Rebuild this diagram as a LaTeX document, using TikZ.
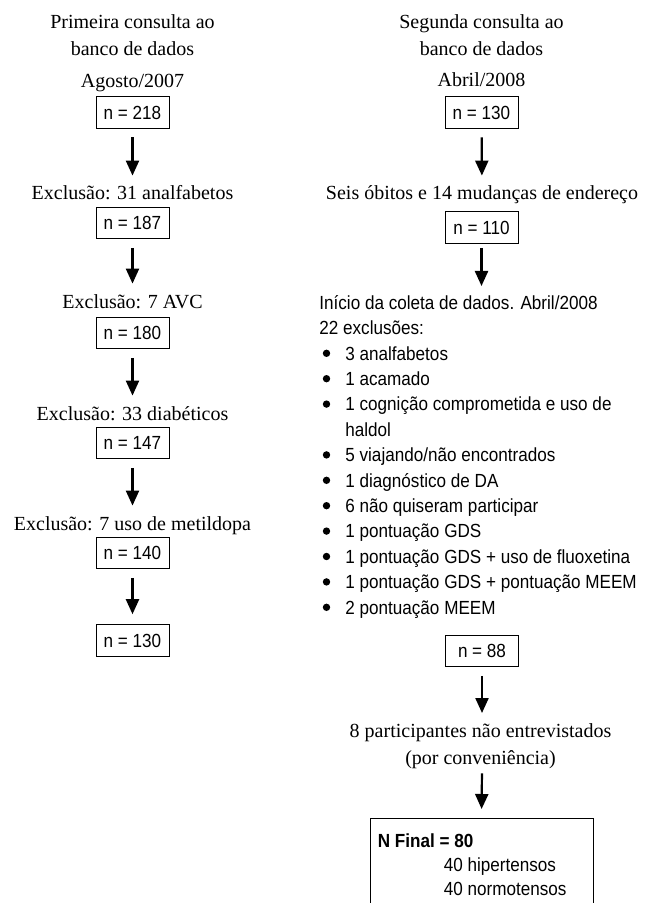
\documentclass[tikz,border=0pt]{standalone}
\usepackage{fontspec}
\setmainfont{Liberation Serif}
\newfontfamily\condsans[FakeStretch=0.9]{Liberation Sans}
\usetikzlibrary{arrows.meta}

\newcommand{\itm}{\hspace*{13pt}}

\tikzset{
  nbox/.style={draw, line width=0.5pt, inner sep=0pt,
    minimum width=36.5pt, minimum height=15.8pt,
    font=\condsans\fontsize{9.5}{12.7}\selectfont},
  txt/.style={inner sep=0pt, text height=7pt, text depth=2pt,
    font=\fontsize{10}{13.5}\selectfont},
  heading/.style={inner sep=0pt, align=center,
    font=\fontsize{10}{13.5}\selectfont},
  listtxt/.style={inner sep=0pt, align=left,
    font=\condsans\fontsize{9.5}{12.7}\selectfont},
  down/.style={-{Triangle[width=6.5pt,length=7.5pt]}, line width=1.1pt,
    shorten <=4.25pt, shorten >=5pt}
}

\begin{document}
\begin{tikzpicture}[x=0.5pt, y=-0.5pt]
  \useasboundingbox (0,0) rectangle (652,903);

  % primeira consulta
  \node[heading, anchor=north] (head1) at (132.5,14) {Primeira consulta ao\\banco de dados};
  \node[txt, anchor=base] (date1) at (132.5,88) {Agosto/2007};
  \node[nbox] (n218) at (132.5,112.5) {n = 218};
  \node[txt, anchor=base] (ex1) at (132.5,200) {Exclusão: 31 analfabetos};
  \node[nbox] (n187) at (132.5,223) {n = 187};
  \node[txt, anchor=base] (ex2) at (132.5,308) {Exclusão: 7 AVC};
  \node[nbox] (n180) at (132.5,333) {n = 180};
  \node[txt, anchor=base] (ex3) at (132.5,420) {Exclusão: 33 diabéticos};
  \node[nbox] (n147) at (132.5,443) {n = 147};
  \node[txt, anchor=base] (ex4) at (132.5,530) {Exclusão: 7 uso de metildopa};
  \node[nbox] (n140) at (132.5,553) {n = 140};
  \node[nbox] (n130a) at (132.5,640.5) {n = 130};

  \draw[down] (n218) -- (ex1);
  \draw[down] (n187) -- (ex2);
  \draw[down] (n180) -- (ex3);
  \draw[down] (n147) -- (ex4);
  \draw[down] (n140) -- (n130a);

  % segunda consulta
  \node[heading, anchor=north] (head2) at (481.5,14) {Segunda consulta ao\\banco de dados};
  \node[txt, anchor=base] (date2) at (481.5,87) {Abril/2008};
  \node[nbox] (n130) at (481.5,112.5) {n = 130};
  \node[txt, anchor=base] (obitos) at (482,200) {Seis óbitos e 14 mudanças de endereço};
  \node[nbox] (n110) at (481.5,227.5) {n = 110};
  \node[listtxt, anchor=north west] (coleta) at (319,295) {%
    Início da coleta de dados. Abril/2008\\
    22 exclusões:\\
    \itm 3 analfabetos\\
    \itm 1 acamado\\
    \itm 1 cognição comprometida e uso de\\
    \itm haldol\\
    \itm 5 viajando/não encontrados\\
    \itm 1 diagnóstico de DA\\
    \itm 6 não quiseram participar\\
    \itm 1 pontuação GDS\\
    \itm 1 pontuação GDS + uso de fluoxetina\\
    \itm 1 pontuação GDS + pontuação MEEM\\
    \itm 2 pontuação MEEM};
  % marcadores
  \foreach \k in {0,1,2,4,5,6,7,8,9,10}
    \fill ([shift={(7.5,58.3+25.4*\k)}]coleta.north west) circle (1.85pt);
  \node[nbox] (n88) at (482,651) {n = 88};
  \node[heading, anchor=north] (conv) at (480.5,723) {8 participantes não entrevistados\\(por conveniência)};
  \node[draw, line width=0.5pt, inner sep=0pt, anchor=north,
    minimum width=111.5pt, minimum height=60pt] (final) at (481.5,818) {};
  \node[listtxt, anchor=north west, font=\condsans\fontsize{9.5}{12}\selectfont]
    (finaltxt) at ([xshift=4pt,yshift=-7.7pt]final.north west)
    {\textbf{N Final = 80}\\
     \hspace*{33pt}40 hipertensos\\
     \hspace*{33pt}40 normotensos};

  \draw[down] (n130) -- (obitos);
  \draw[down, shorten <=2pt, shorten >=4.5pt] (n110.south) -- (n110.south |- coleta.north);
  \draw[down] (n88.south) -- (n88.south |- conv.north);
  \draw[down, shorten <=2.2pt, shorten >=4.5pt] (n88.south |- conv.south) -- (final.north);
\end{tikzpicture}
\end{document}
